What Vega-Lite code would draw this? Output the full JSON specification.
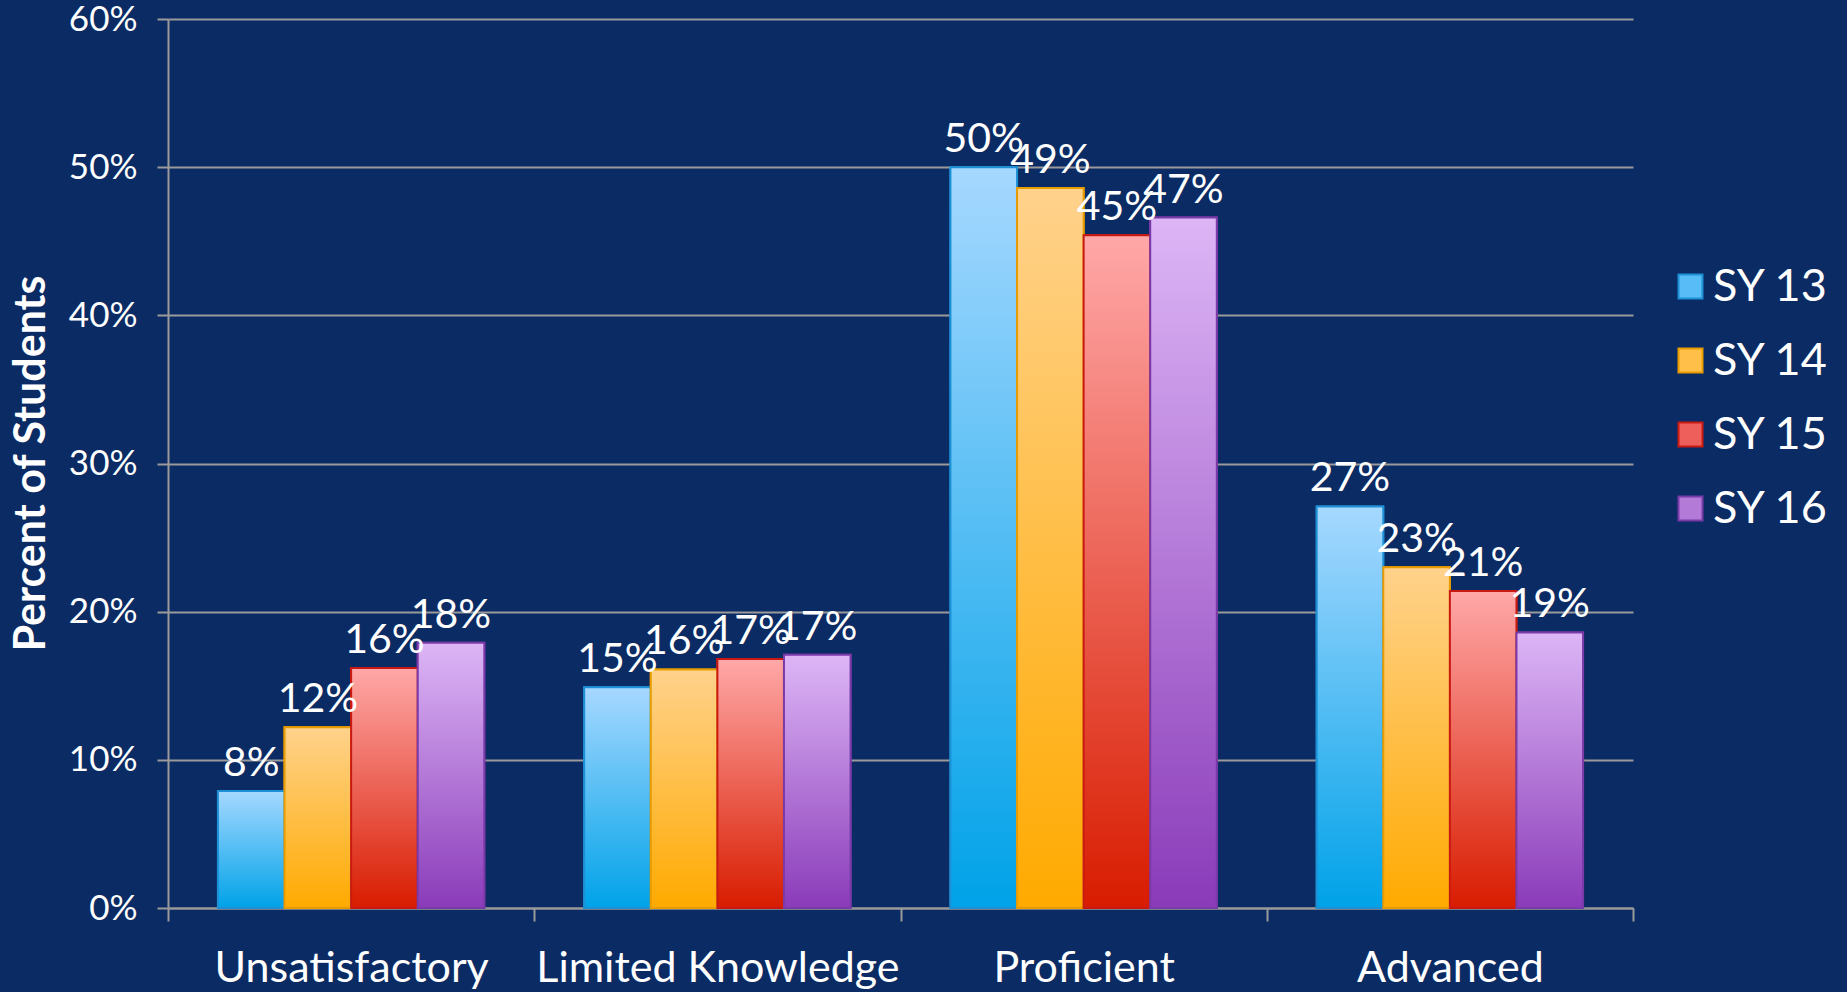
{
  "$schema": "https://vega.github.io/schema/vega-lite/v6.json",
  "autosize": "none",
  "width": 1465,
  "height": 889,
  "padding": {"left": 168, "top": 19, "right": 214, "bottom": 84},
  "background": "#0b2b64",
  "config": {
    "view": {"stroke": null},
    "font": "Lato",
    "axis": {"labelColor": "white", "titleColor": "white", "domainColor": "#9a9a9a", "tickColor": "#9a9a9a", "gridColor": "#9a9a9a", "domainWidth": 2, "tickWidth": 2, "gridWidth": 2}
  },
  "data": {
    "values": [
      {"level": "Unsatisfactory", "year": "SY 13", "pct": 0.079},
      {"level": "Unsatisfactory", "year": "SY 14", "pct": 0.122},
      {"level": "Unsatisfactory", "year": "SY 15", "pct": 0.162},
      {"level": "Unsatisfactory", "year": "SY 16", "pct": 0.179},
      {"level": "Limited Knowledge", "year": "SY 13", "pct": 0.149},
      {"level": "Limited Knowledge", "year": "SY 14", "pct": 0.161},
      {"level": "Limited Knowledge", "year": "SY 15", "pct": 0.168},
      {"level": "Limited Knowledge", "year": "SY 16", "pct": 0.171},
      {"level": "Proficient", "year": "SY 13", "pct": 0.5},
      {"level": "Proficient", "year": "SY 14", "pct": 0.486},
      {"level": "Proficient", "year": "SY 15", "pct": 0.454},
      {"level": "Proficient", "year": "SY 16", "pct": 0.466},
      {"level": "Advanced", "year": "SY 13", "pct": 0.271},
      {"level": "Advanced", "year": "SY 14", "pct": 0.23},
      {"level": "Advanced", "year": "SY 15", "pct": 0.214},
      {"level": "Advanced", "year": "SY 16", "pct": 0.186}
    ]
  },
  "encoding": {
    "x": {
      "field": "level", "type": "nominal",
      "sort": ["Unsatisfactory", "Limited Knowledge", "Proficient", "Advanced"],
      "scale": {"paddingInner": 0, "paddingOuter": 0},
      "axis": {"title": null, "labelAngle": 0, "labelFontSize": 43, "labelPadding": 26, "labelLimit": 0, "tickSize": 13, "tickBand": "extent", "labelBaseline": "top"}
    },
    "xOffset": {"field": "year", "type": "nominal", "sort": ["SY 13", "SY 14", "SY 15", "SY 16"], "scale": {"paddingInner": 0, "paddingOuter": 0.75}},
    "y": {
      "field": "pct", "type": "quantitative",
      "scale": {"domain": [0, 0.6], "nice": false},
      "axis": {"title": "Percent of Students", "format": ".0%", "values": [0, 0.1, 0.2, 0.3, 0.4, 0.5, 0.6], "labelFontSize": 35, "labelPadding": 20, "tickSize": 11, "titleFontSize": 43, "titleFontWeight": "bold", "titleX": -137, "titleY": 444, "titleAngle": -90, "titleAlign": "center", "titleBaseline": "middle", "grid": true}
    }
  },
  "layer": [
    {
      "mark": {"type": "bar", "strokeWidth": 2},
      "encoding": {
        "fill": {
          "field": "year", "type": "nominal",
          "scale": {"domain": ["SY 13", "SY 14", "SY 15", "SY 16"], "range": ["#58BDF6", "#FFBF48", "#EE5E5A", "#B47AD8"]},
          "legend": {
            "title": null, "orient": "none", "legendX": 1500, "legendY": 245,
            "symbolType": "square", "symbolSize": 576, "symbolStrokeWidth": 2, "symbolOpacity": 1,
            "labelFontSize": 45, "labelColor": "white", "labelOffset": 0, "rowPadding": 28
          }
        },
        "stroke": {
          "field": "year", "type": "nominal",
          "scale": {"domain": ["SY 13", "SY 14", "SY 15", "SY 16"], "range": ["#1E90D6", "#E89C00", "#C81A12", "#7A3AA8"]},
          "legend": {
            "title": null, "orient": "none", "legendX": 1500, "legendY": 245,
            "symbolType": "square", "symbolSize": 576, "symbolStrokeWidth": 2, "symbolOpacity": 1,
            "labelFontSize": 45, "labelColor": "white", "labelOffset": 0, "rowPadding": 28
          }
        }
      }
    },
    {
      "mark": {"type": "bar", "strokeWidth": 2},
      "encoding": {
        "fill": {
          "condition": [
            {"test": "datum.year === 'SY 13'", "value": {"gradient": "linear", "x1": 0, "y1": 0, "x2": 0, "y2": 1, "stops": [{"offset": 0, "color": "#A6D8FF"}, {"offset": 1, "color": "#00A2E8"}]}},
            {"test": "datum.year === 'SY 14'", "value": {"gradient": "linear", "x1": 0, "y1": 0, "x2": 0, "y2": 1, "stops": [{"offset": 0, "color": "#FFD28C"}, {"offset": 1, "color": "#FFAA00"}]}},
            {"test": "datum.year === 'SY 15'", "value": {"gradient": "linear", "x1": 0, "y1": 0, "x2": 0, "y2": 1, "stops": [{"offset": 0, "color": "#FFA8A8"}, {"offset": 1, "color": "#D81C00"}]}}
          ],
          "value": {"gradient": "linear", "x1": 0, "y1": 0, "x2": 0, "y2": 1, "stops": [{"offset": 0, "color": "#DDB6F6"}, {"offset": 1, "color": "#8A3BB9"}]}
        },
        "stroke": {
          "condition": [
            {"test": "datum.year === 'SY 13'", "value": "#1E90D6"},
            {"test": "datum.year === 'SY 14'", "value": "#E89C00"},
            {"test": "datum.year === 'SY 15'", "value": "#C81A12"}
          ],
          "value": "#7A3AA8"
        }
      }
    },
    {
      "mark": {"type": "text", "color": "white", "fontSize": 41, "baseline": "alphabetic", "dy": -15},
      "encoding": {
        "text": {"field": "pct", "type": "quantitative", "format": ".0%"}
      }
    }
  ]
}
